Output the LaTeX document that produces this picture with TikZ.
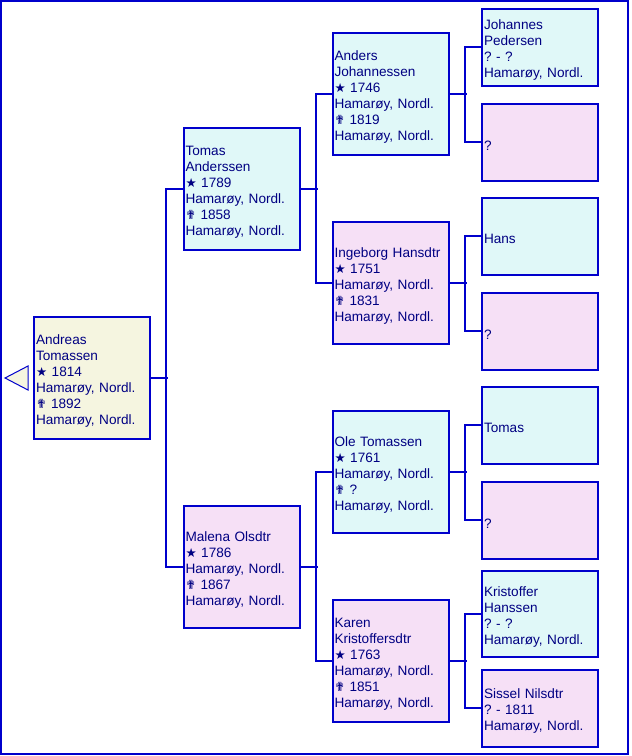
\documentclass[tikz,border=0pt]{standalone}
\usepackage{fontspec}
\setmainfont{Liberation Sans}
\newfontfamily\symfont{DejaVu Sans}
\usepackage{xcolor}
\definecolor{LineBlue}{RGB}{0,0,204}
\definecolor{TextBlue}{RGB}{0,0,130}
\definecolor{MaleFill}{RGB}{224,248,248}
\definecolor{FemFill} {RGB}{246,224,246}
\definecolor{RootFill}{RGB}{245,245,224}
\tikzset{
  % Generic person box with optional height (default 122pt)
  person/.style={
    rectangle, draw=LineBlue, line width=2pt, outer sep=0pt,
    text=TextBlue, align=left, font=\fontsize{13.6}{16}\selectfont\frenchspacing,
    text width=112pt, inner xsep=2pt, inner ysep=0pt, minimum height=#1,
    execute at begin node={\rule{0pt}{16pt}}
  },
  person/.default=122pt,
  male/.style={person=#1, fill=MaleFill},
  male/.default=122pt,
  fem/.style={person=#1, fill=FemFill},
  fem/.default=122pt,
  rootp/.style={person=#1, fill=RootFill},
  rootp/.default=122pt,
  % Elbow connector child -> parents
  link/.style={draw=LineBlue, line width=2pt},
  frame/.style={draw=LineBlue, line width=2pt}
}
\newcommand{\born}[1]{{\symfont\fontsize{12.5}{16}\selectfont ★}\ #1}
\newcommand{\died}[1]{{\symfont\fontsize{12.5}{16}\selectfont ✟}\ #1}
\newcommand{\place}{Hamarøy, Nordl.}

\begin{document}
\begin{tikzpicture}[x=1pt, y=-1pt]

  \useasboundingbox (0,0) rectangle (632,756);
  \draw[frame] (1,1) rectangle (628,754);

  %% ── Root ───────────────────────────────────────────────────────────────────
  \node[rootp] (andreas) at (92,378)
    {Andreas\\Tomassen\\\born{1814}\\\place\\\died{1892}\\\place};

  % Back arrow on the left of the root box
  \draw[draw=LineBlue, fill=RootFill, line width=1pt]
    (28,366) -- (5,378) -- (28,390) -- cycle;

  %% ── Parents ────────────────────────────────────────────────────────────────
  \node[male] (tomas) at (241.5,188.5)
    {Tomas\\Anderssen\\\born{1789}\\\place\\\died{1858}\\\place};
  \node[fem] (malena) at (241.5,566.5)
    {Malena Olsdtr\\\born{1786}\\\place\\\died{1867}\\\place};

  %% ── Grandparents ───────────────────────────────────────────────────────────
  \node[male] (anders) at (390.5,93.5)
    {Anders\\Johannessen\\\born{1746}\\\place\\\died{1819}\\\place};
  \node[fem] (ingeborg) at (390.5,282.5)
    {Ingeborg Hansdtr\\\born{1751}\\\place\\\died{1831}\\\place};
  \node[male] (ole) at (390.5,471.5)
    {Ole Tomassen\\\born{1761}\\\place\\\died{?}\\\place};
  \node[fem] (karen) at (390.5,660.5)
    {Karen\\Kristoffersdtr\\\born{1763}\\\place\\\died{1851}\\\place};

  %% ── Great-grandparents ─────────────────────────────────────────────────────
  \node[male=77pt] (johannes) at (540,47)  {Johannes\\Pedersen\\? - ?\\\place};
  \node[fem=77pt]  (unkA)     at (540,142) {?};
  \node[male=77pt] (hans)     at (540,236) {Hans};
  \node[fem=77pt]  (unkB)     at (540,331) {?};
  \node[male=77pt] (tomasB)   at (540,425) {Tomas};
  \node[fem=77pt]  (unkC)     at (540,520) {?};
  \node[male=86pt] (kristoffer) at (540,614) {Kristoffer\\Hanssen\\? - ?\\\place};
  \node[fem=77pt]  (sissel)   at (540,708) {Sissel Nilsdtr\\? - 1811\\\place};

  %% ── Connectors ─────────────────────────────────────────────────────────────
  \foreach \kid/\dad/\mum in {andreas/tomas/malena, tomas/anders/ingeborg,
      malena/ole/karen, anders/johannes/unkA, ingeborg/hans/unkB,
      ole/tomasB/unkC, karen/kristoffer/sissel} {
    \draw[link] (\kid.east) -- ++(18,0);
    \draw[link] (\kid.east) ++(16,0) |- (\dad.west);
    \draw[link] (\kid.east) ++(16,0) |- (\mum.west);
  }

\end{tikzpicture}
\end{document}
